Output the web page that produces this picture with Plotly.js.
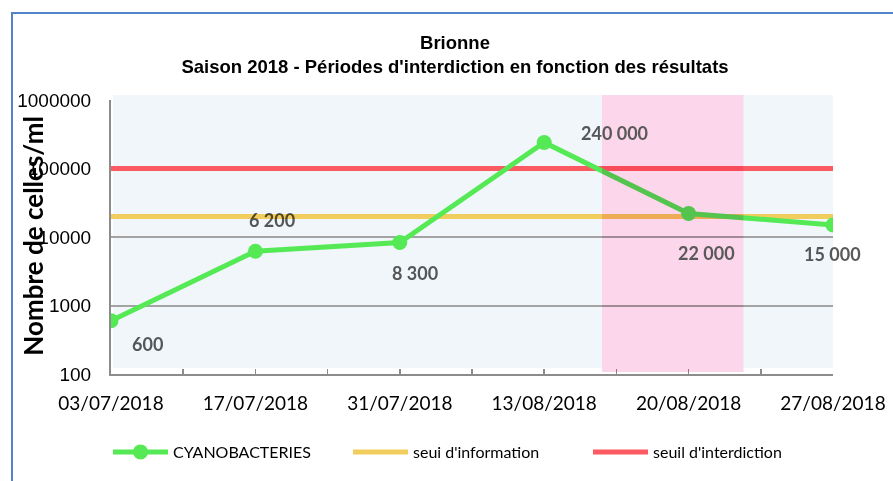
<!DOCTYPE html>
<html>
<head>
<meta charset="utf-8">
<script src="https://cdn.plot.ly/plotly-3.0.1.min.js"></script>
<style>
  html, body { margin: 0; padding: 0; background: #ffffff; }
  #chart { width: 893px; height: 481px; position: relative; }
  #frame { position: absolute; left: 11px; top: 12px; width: 1000px; height: 600px;
           border-left: 2px solid #5383c9; border-top: 2px solid #5383c9; pointer-events: none; }
</style>
</head>
<body>
<div id="chart"></div>
<div id="frame"></div>
<script>
// ---- data ----
const dates = ['03/07/2018', '17/07/2018', '31/07/2018', '13/08/2018', '20/08/2018', '27/08/2018'];
const cyano = [600, 6200, 8300, 240000, 22000, 15000];
const seuilInformation = [20000, 20000, 20000, 20000, 20000, 20000];
const seuilInterdiction = [100000, 100000, 100000, 100000, 100000, 100000];
const yTickValues = [100, 1000, 10000, 100000, 1000000];
const yTickLabels = ['100', '1000', '10000', '100000', '1000000'];
// interdiction period (in category index units)
const interdictionStart = 3.4;
const interdictionEnd = 4.38;

// ---- styling ----
const labelOffsets = [[36, -23], [17, 31], [15, -30], [70, 9], [18, -39], [-1, -29]];
const xIdx = dates.map((d, i) => i);
const fmt = v => String(v).replace(/\B(?=(\d{3})+(?!\d))/g, ' ');

const traces = [
  {
    x: xIdx, y: seuilInformation, name: "seui d'information", mode: 'lines',
    line: { color: '#f0cd5c', width: 5 }, legendrank: 2
  },
  {
    x: xIdx, y: seuilInterdiction, name: "seuil d'interdiction", mode: 'lines',
    line: { color: '#fb5a62', width: 5 }, legendrank: 3
  },
  {
    x: xIdx, y: cyano, name: 'CYANOBACTERIES', mode: 'lines+markers',
    line: { color: '#55ea55', width: 5 },
    marker: { color: '#55ea55', size: 15 }, legendrank: 1
  }
];

const annotations = cyano.map((v, i) => ({
  x: xIdx[i], y: Math.log10(v), xref: 'x', yref: 'y',
  text: fmt(v), showarrow: false,
  xshift: labelOffsets[i][0], yshift: labelOffsets[i][1],
  font: { family: 'Lato', size: 18, color: '#595959', weight: 'bold' }
}));
annotations.push({
  xref: 'paper', yref: 'paper', x: -(111 - 33) / 722, y: 0.505,
  xanchor: 'center', yanchor: 'middle',
  text: '<b>Nombre de celles/ml</b>', textangle: -90, showarrow: false,
  font: { family: 'Lato', size: 26, color: '#000000' }
});

const layout = {
  width: 893, height: 481,
  margin: { l: 111, r: 60, t: 100, b: 107 },
  paper_bgcolor: '#ffffff', plot_bgcolor: 'rgba(0,0,0,0)',
  title: {
    text: '<b>Brionne</b><br><b>Saison 2018 - Périodes d\'interdiction en fonction des résultats</b>',
    font: { family: 'Liberation Sans', size: 18.5, color: '#000000' },
    x: 455 / 893, xanchor: 'center', xref: 'container',
    y: 1 - 49 / 481, yanchor: 'top', yref: 'container'
  },
  xaxis: {
    type: 'linear', range: [0, 5], tickmode: 'array', tickvals: xIdx, ticktext: dates,
    showgrid: false, zeroline: false, showline: true, linecolor: '#8c8c8c', linewidth: 2,
    ticks: 'inside', ticklen: 5, tickcolor: '#8c8c8c', tickwidth: 1.5,
    minor: { tickvals: xIdx.slice(1).map(i => i - 0.5), ticks: 'inside', ticklen: 5, tickcolor: '#8c8c8c', tickwidth: 1.5, showgrid: false },
    tickfont: { family: 'Lato', size: 19, color: '#000000' },
    ticklabelstandoff: 11, fixedrange: true
  },
  yaxis: {
    type: 'log', range: [2, 6.0005], tickmode: 'array', tickvals: yTickValues, ticktext: yTickLabels,
    showgrid: true, gridcolor: '#a3a3a3', gridwidth: 2,
    zeroline: false, showline: true, linecolor: '#8c8c8c', linewidth: 2,
    ticks: '', tickfont: { family: 'Liberation Sans', size: 19, color: '#000000', weight: 'normal' },
    ticklabelstandoff: 14, fixedrange: true
  },
  shapes: [
    {
      type: 'rect', layer: 'below', xref: 'x', yref: 'paper',
      x0: 0.014, x1: interdictionStart, y0: 0.022, y1: 1.018,
      fillcolor: '#f0f6fa', line: { width: 0 }
    },
    {
      type: 'rect', layer: 'below', xref: 'x', yref: 'paper',
      x0: interdictionEnd, x1: 5.15, y0: 0.022, y1: 1.018,
      fillcolor: '#f0f6fa', line: { width: 0 }
    },
    {
      type: 'rect', layer: 'above', xref: 'x', yref: 'paper',
      x0: interdictionStart, x1: interdictionEnd, y0: 0.007, y1: 1.018,
      fillcolor: '#fcd6ea', line: { width: 0 }
    }
  ],
  annotations: annotations,
  showlegend: true,
  legend: {
    orientation: 'h', xref: 'container', yref: 'container',
    x: 108 / 893, xanchor: 'left', y: 1 - 435 / 481, yanchor: 'top',
    font: { family: 'Lato', size: 16, color: '#000000' },
    entrywidth: 170, entrywidthmode: 'pixels', itemwidth: 55,
    bgcolor: 'rgba(0,0,0,0)'
  }
};

Plotly.newPlot('chart', traces, layout, { displayModeBar: false, staticPlot: true }).then(gd => {
  // blend the overlay (interdiction period) with what lies beneath, like the original
  const shape = gd.querySelector('.layer-above .shapelayer path');
  if (shape) {
    const svg = shape.closest('svg');
    if (svg) svg.style.mixBlendMode = 'multiply';
  }
});
</script>
</body>
</html>
